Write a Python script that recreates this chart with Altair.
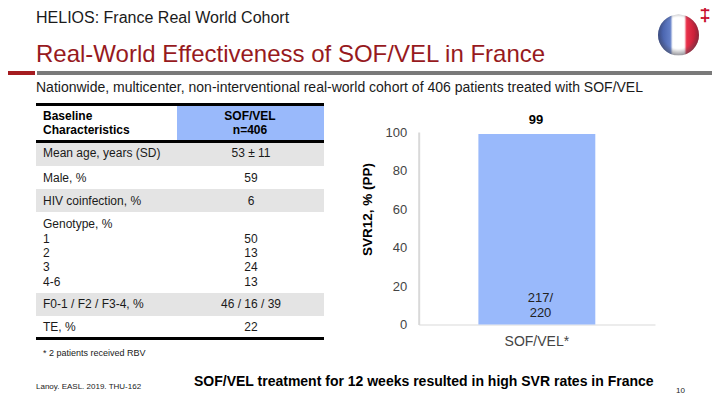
import altair as alt

BAR_CATEGORIES = ["SOF/VEL*"]
BAR_VALUES = [99]
BAR_LABEL = "99"
BAR_COUNT = ["217/", "220"]
Y_TICKS = [0, 20, 40, 60, 80, 100]
ROW_LABELS = ["Mean age, years (SD)", "Male, %", "HIV coinfection, %", "Genotype, %", "1", "2", "3", "4-6",
              "F0-1 / F2 / F3-4, %", "TE, %"]
ROW_VALUES = ["53 ± 11", "59", "6", "", "50", "13", "24", "13", "46 / 16 / 39", "22"]
ROW_Y = [153, 178, 201, 224, 239, 253, 267, 282, 304, 327]
FONT = "Liberation Sans"
M = 8
W, H = 704, 389
one = alt.Data(values=[{"a": 1}])
layers = []


def rect(x0, x1, y0, y1, color):
    layers.append(alt.Chart(one).mark_rect(color=color).encode(
        x=alt.value(x0 - M), x2=alt.value(x1 - M), y=alt.value(y0 - M), y2=alt.value(y1 - M)))


def text(s, x, y, size, color="#1a1a1a", align="left", weight="normal"):
    layers.append(alt.Chart(one).mark_text(
        font=FONT, fontSize=size, color=color, align=align, baseline="middle", fontWeight=weight
    ).encode(x=alt.value(x - M), y=alt.value(y - M), text=alt.value(s)))


# Header band
rect(0, 35, 71, 75, "#a51c20")
rect(37, 720, 71, 75, "#7a7a7a")
text("HELIOS: France Real World Cohort", 36, 18, 16)
text("Real-World Effectiveness of SOF/VEL in France", 36, 55, 24, color="#971a1e")
text("Nationwide, multicenter, non-interventional real-world cohort of 406 patients treated with SOF/VEL", 36, 88, 14)

# Table
for y0, y1 in [(143, 166), (189, 212), (293, 316)]:
    rect(36, 324, y0, y1, "#e4e4e4")
rect(177, 324, 106, 140, "#99b9fb")
rect(36, 324, 103, 106, "#000000")
rect(36, 324, 140, 143, "#000000")
rect(36, 324, 337, 340, "#000000")
text("Baseline", 43, 116, 12, color="#000000", weight="bold")
text("Characteristics", 43, 130, 12, color="#000000", weight="bold")
text("SOF/VEL", 250, 116, 12, color="#000000", align="center", weight="bold")
text("n=406", 250, 130, 12, color="#000000", align="center", weight="bold")
for lab, val, y in zip(ROW_LABELS, ROW_VALUES, ROW_Y):
    text(lab, 43, y, 12)
    if val:
        text(val, 251, y, 12, align="center")

# Notes
text("* 2 patients received RBV", 43, 353, 9)
text("Lanoy. EASL. 2019. THU-162", 36, 387, 8)
text("SOF/VEL treatment for 12 weeks resulted in high SVR rates in France", 194, 382, 14, color="#000000", weight="bold")
text("10", 676, 391, 8)
text("‡", 705, 15, 20, color="#c8102e", align="center", weight="bold")

# Flag
flag = alt.LinearGradient(gradient="linear", x1=0, x2=1, y1=0, y2=0, stops=[
    alt.GradientStop(color="#3a539f", offset=0), alt.GradientStop(color="#6480c8", offset=0.3),
    alt.GradientStop(color="#ffffff", offset=0.36), alt.GradientStop(color="#ffffff", offset=0.64),
    alt.GradientStop(color="#e8304a", offset=0.7), alt.GradientStop(color="#b8142e", offset=1)])
shade = alt.RadialGradient(gradient="radial", x1=0.5, y1=0.45, r1=0, x2=0.5, y2=0.45, r2=0.56, stops=[
    alt.GradientStop(color="rgba(70,70,80,0)", offset=0), alt.GradientStop(color="rgba(70,70,80,0)", offset=0.68),
    alt.GradientStop(color="rgba(70,70,80,0.6)", offset=1)])
for fill in (flag, shade):
    layers.append(alt.Chart(one).mark_point(shape="circle", filled=True, size=1681, fill=fill, opacity=1).encode(
        x=alt.value(678.5 - M), y=alt.value(35 - M)))

# Bar chart
df = alt.Data(values=[{"c": c, "v": v} for c, v in zip(BAR_CATEGORIES, BAR_VALUES)])
x_enc = alt.X("c:N", scale=alt.Scale(range=[418.7 - M, 655 - M], padding=0.338), axis=alt.Axis(
    title=None, labelAngle=0, labelFont=FONT, labelFontSize=14, labelColor="#444444", ticks=False,
    domainColor="#d9d9d9", domainWidth=1, labelPadding=10, grid=False, offset=-(H - (324.5 - M))))
y_enc = alt.Y("v:Q", scale=alt.Scale(domain=[0, 100], range=[324.5 - M, 132 - M]), axis=alt.Axis(
    values=Y_TICKS, title="SVR12, % (PP)", titleFont=FONT, titleFontSize=13.5, titleFontWeight="bold", titleColor="#000000",
    titleX=-44, titleY=209 - M, labelFont=FONT, labelFontSize=13, labelColor="#444444", ticks=False,
    domainColor="#d9d9d9", domainWidth=2, labelPadding=12, grid=False, offset=-(418.7 - M)))
bar = alt.Chart(df).mark_bar(color="#99b9fb").encode(x=x_enc, y=y_enc)
layers.append(bar)
text(BAR_LABEL, 536, 120, 13, color="#000000", align="center", weight="bold")
text(BAR_COUNT[0], 540.5, 298, 13, color="#222222", align="center")
text(BAR_COUNT[1], 540.5, 313, 13, color="#222222", align="center")

chart = alt.layer(*layers).properties(
    width=W, height=H, autosize=alt.AutoSizeParams(type="none"), padding=0, background="#ffffff"
).configure_view(stroke=None)
chart.save("out.html", embed_options={"renderer": "svg", "actions": False})
